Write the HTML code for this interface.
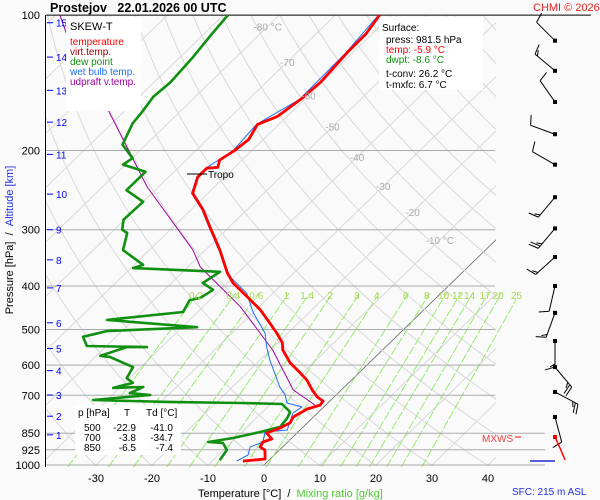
<!DOCTYPE html>
<html><head><meta charset="utf-8"><style>
body{margin:0;background:#fafafa;}
svg{display:block;font-family:"Liberation Sans",sans-serif;}
</style></head><body>
<svg id="chart" width="600" height="500" viewBox="0 0 600 500" xmlns="http://www.w3.org/2000/svg">
<rect width="600" height="500" fill="#fafafa"/>
<defs><clipPath id="plotclip"><rect x="46" y="15" width="450" height="451"/></clipPath>
<clipPath id="mixclip"><rect x="46" y="15" width="470" height="453"/></clipPath></defs>
<g id="grid" clip-path="url(#plotclip)"></g>
<g id="mix" clip-path="url(#mixclip)"></g>
<g id="hlines"></g>
<g id="series" clip-path="url(#plotclip)"></g>
<g id="labels"></g>
<g id="winds"></g>
</svg>
<script>
// ---- data ----
const pressureTicks=[100,200,300,400,500,600,700,850,925,1000];
const altitudeKm=[1,2,3,4,5,6,7,8,9,10,11,12,13,14,15];
const altitudeP=[857,779,699,617,551,483,404,350,300,250,204,173,147,124,104];
const tempTicks=[-30,-20,-10,0,10,20,30,40];
const isoLabels=[-80,-70,-60,-50,-40,-30,-20,-10];
const isoLabelP=[106,127,151,177,207,240,274,316];
const mixRatios=[0.2,0.4,0.6,1,1.4,2,3,4,6,8,10,12,14,17,20,25];
const tempP=[980,970,926,912,889,875,849,827,806,782,766,751,736,721,706,681,647,624,593,555,535,509,494,452,423,394,374,333,296,271,249,229,219,218,210,200,189,175,168,154,141,121,110,100];
const tempT=[-4.5,-0.9,-2.6,-4.0,-4.4,-3.4,-5.4,-3.9,-3.1,-3.6,-3.1,-2.6,-1.0,-1.2,-3.0,-5.2,-8.0,-10.5,-14.1,-17.8,-19.2,-22.0,-23.8,-29.2,-33.9,-39.0,-41.9,-47.4,-53.4,-57.8,-62.7,-64.8,-64.8,-63.0,-64.0,-63.1,-62.6,-63.8,-61.7,-60.7,-60.3,-61.0,-61.1,-62.1];
const dewP=[975,926,893,889,871,845,823,786,762,732,728,724,717,699,692,671,674,657,641,606,575,572,547,547,544,519,504,494,476,457,430,425,408,394,372,365,359,333,305,300,285,260,245,223,215,208,194,174,164,152,141,124,110,100];
const dewT=[-8.8,-9.4,-11.4,-14.2,-10.5,-6.8,-4.1,-4.5,-5.1,-8.0,-15.7,-28.9,-42.5,-33.2,-37.2,-35.9,-41.1,-38.5,-40.5,-41.4,-47.4,-49.3,-46.2,-42.6,-53.5,-55.9,-52.7,-37.3,-54.7,-42.6,-43.6,-42.1,-41.3,-44.4,-43.4,-59.6,-58.4,-64.7,-67.1,-68.6,-70.2,-70.0,-75.1,-75.1,-80.4,-79.9,-84.2,-86.3,-86.7,-87.5,-87.1,-87.7,-88.6,-89.2];
const wetP=[980,950,912,889,845,836,766,743,728,699,671,647,584,547,509,459,415,382,333,296,271,249,229,219,210,200,175,154,121,100];
const wetT=[-5.6,-4.7,-5.8,-4.4,-5.9,-2.3,-4.4,-3.9,-7.3,-9.1,-11.5,-13.3,-18.3,-21.2,-24.1,-29.9,-34.7,-40.6,-47.6,-53.6,-58.0,-62.9,-65.0,-65.0,-64.2,-63.3,-64.0,-60.9,-61.2,-62.3];
const parcelP=[736,681,555,445,363,333,241,162,110,100];
const parcelT=[-1.9,-8.6,-19.6,-33.3,-47.8,-52.2,-72.0,-93.3,-114.6,-119.2];
const windP=[114,133,156,184,215,254,298,345,400,459,530,606,688,782];
const windDir=[315,310,325,290,300,220,220,228,193,200,180,140,118,165];
const windSpd=[10,15,10,10,10,15,25,15,10,15,15,25,25,10];

// ---- axes ----
const NS="http://www.w3.org/2000/svg";
function yOf(p){return 465-195.4*Math.log(1000/p);}
function xOf(T,p){return 264+5.6*T+(465-yOf(p))*1.03;}
function mk(tag,attrs,parent){const e=document.createElementNS(NS,tag);for(const k in attrs)e.setAttribute(k,attrs[k]);parent.appendChild(e);return e;}
const grid=document.getElementById('grid'),mix=document.getElementById('mix'),hl=document.getElementById('hlines'),ser=document.getElementById('series'),lab=document.getElementById('labels'),wg=document.getElementById('winds');

// isotherms
for(let T=-160;T<=50;T+=10){
  const l=mk('line',{x1:xOf(T,1050),y1:yOf(1050),x2:xOf(T,100),y2:yOf(100),stroke:T===0?'#666':'#d8d8d8','stroke-width':T===0?0.8:1},grid);
  
  
}
// dry adiabats
for(let th=233;th<=493;th+=10){
  let d='';
  for(let p=1050;p>=100;p-=10){const T=th*Math.pow(p/1000,0.2857)-273.15;d+=(d?'L':'M')+xOf(T,p).toFixed(1)+','+yOf(p).toFixed(1);}
  const a=mk('path',{d:d,fill:'none',stroke:'#d8d8d8','stroke-width':1},grid);
  
  
}
// mixing ratio lines
function tdFromW(w,p){const e=w*p/(622+w);const g=Math.log(e/6.112);return 243.5*g/(17.67-g);}
mixRatios.forEach(w=>{
  const p1=1010,p2=415;
  const m=mk('line',{x1:xOf(tdFromW(w,p1),p1),y1:yOf(p1),x2:xOf(tdFromW(w,p2),p2),y2:yOf(p2),stroke:'#8ee860','stroke-width':0.9,'stroke-dasharray':'9,2'},mix);
  
  
  const t=mk('text',{x:xOf(tdFromW(w,405),405)-6,y:299,'font-size':10,fill:'#a8d850','text-anchor':'middle'},lab);
  t.textContent=String(w);
  
  
});
// pressure lines and labels
pressureTicks.forEach(p=>{
  const y=yOf(p);
  const ln=mk('line',{x1:46,y1:y,x2:p===100?591:(p>=850?545:495),y2:y,stroke:p===100?'#000':'#aaa','stroke-width':1},hl);
  
  
  const t=mk('text',{x:40,y:y+4,'font-size':11,'text-anchor':'end',fill:'#000'},lab);
  t.textContent=String(p);
  
  
});
mk('line',{x1:45.5,y1:15,x2:45.5,y2:467,stroke:'#000','stroke-width':1},hl);
// altitude ticks
altitudeKm.forEach((k,i)=>{
  const y=yOf(altitudeP[i]);
  mk('line',{x1:47,y1:y,x2:53,y2:y,stroke:'#00f','stroke-width':1},lab);
  const t=mk('text',{x:56,y:y+4,'font-size':10,fill:'#00f'},lab);
  t.textContent=String(k);
  
  
});
// temperature ticks
tempTicks.forEach(T=>{
  const t=mk('text',{x:xOf(T,1000),y:482,'font-size':11,'text-anchor':'middle',fill:'#000'},lab);
  t.textContent=String(T);
  
  
});
// isotherm labels
isoLabels.forEach((T,i)=>{
  const p=isoLabelP[i];
  const t=mk('text',{x:xOf(T,p),y:yOf(p)+4,'font-size':10,fill:'#aaa','text-anchor':'middle'},lab);
  t.textContent=(T===-80||T===-10)?T+' °C':String(T);
  
  
});
// series
function line(P,T,color,w,name){
  let d='';P.forEach((p,i)=>{d+=(i?'L':'M')+xOf(T[i],p).toFixed(1)+','+yOf(p).toFixed(1);});
  const e=mk('path',{d:d,fill:'none',stroke:color,'stroke-width':w,'stroke-linejoin':'round'},ser);
  
  
}
line(parcelP,parcelT,'#a000a0',1,'updraft-virtual-temp-line');
line(wetP,wetT,'#1e6ef0',1,'wet-bulb-line');
line(dewP,dewT,'#109010',2.6,'dew-point-line');
line(tempP,tempT,'#ff0000',2.8,'temperature-line');

// wind barbs
windP.forEach((p,i)=>{
  const cx=555,cy=yOf(p),th=windDir[i]*Math.PI/180,L=26;
  const dx=Math.sin(th),dy=-Math.cos(th);
  const ex=cx+L*dx,ey=cy+L*dy;
  const g=mk('g',{},wg);
  
  
  mk('line',{x1:cx,y1:cy,x2:ex,y2:ey,stroke:'#000','stroke-width':1},g);
  mk('rect',{x:cx-2,y:cy-2,width:4,height:4,fill:'#000'},g);
  let s=windSpd[i],k=0;
  const px=-dy,py=dx;
  while(s>=5){
    const len=s>=10?10:5;
    const bx=ex-dx*k*3,by=ey-dy*k*3;
    mk('line',{x1:bx,y1:by,x2:bx+px*len+dx*3,y2:by+py*len+dy*3,stroke:'#000','stroke-width':1},g);
    s-=s>=10?10:5;k++;
  }
});
// surface wind details
mk('line',{x1:530,y1:461,x2:555,y2:461,stroke:'#0000cc','stroke-width':1.2},wg);
mk('polyline',{points:'555,437 560,448 565,460',fill:'none',stroke:'#f00','stroke-width':1.5},wg);
mk('rect',{x:553,y:435,width:4,height:4,fill:'#f00'},wg);
</script>
<svg style="position:absolute;left:0;top:0" width="600" height="500">
<text x="50" y="12" font-size="12.5" font-weight="bold" font-family="Liberation Sans, sans-serif">Prostejov&#160;&#160;&#160;22.01.2026 00 UTC</text>
<text x="533" y="11" font-size="11" fill="#f02020" font-family="Liberation Sans, sans-serif">CHMI © 2026</text>
<rect x="66" y="17" width="75" height="94" fill="#fff"/>
<g font-family="Liberation Sans, sans-serif" font-size="10">
<text x="70" y="30" font-size="11" fill="#000">SKEW-T</text>
<text x="70" y="45" fill="#f00">temperature</text>
<text x="70" y="55" fill="#a00000">virt.temp.</text>
<text x="70" y="65" fill="#109010">dew point</text>
<text x="70" y="75" fill="#1e6ef0">wet bulb temp.</text>
<text x="70" y="85" fill="#a000a0">udpraft v.temp.</text>
</g>
<rect x="379" y="17" width="104" height="73" fill="#fff"/>
<g font-family="Liberation Sans, sans-serif" font-size="10">
<text x="382" y="31" fill="#000">Surface:</text>
<text x="386" y="43" fill="#000">press: 981.5 hPa</text>
<text x="386" y="53" fill="#f00">temp: -5.9 °C</text>
<text x="386" y="63" fill="#109010">dwpt: -8.6 °C</text>
<text x="386" y="77" fill="#000">t-conv: 26.2 °C</text>
<text x="386" y="88" fill="#000">t-mxfc: 6.7 °C</text>
</g>
<rect x="75" y="405" width="106" height="50" fill="#fff" fill-opacity="0.9"/>
<g font-family="Liberation Sans, sans-serif" font-size="10" fill="#000">
<text x="78" y="416">p [hPa]</text><text x="124" y="416">T</text><text x="146" y="416">Td [°C]</text>
<text x="84" y="431">500</text><text x="136" y="431" text-anchor="end">-22.9</text><text x="173" y="431" text-anchor="end">-41.0</text>
<text x="84" y="441">700</text><text x="136" y="441" text-anchor="end">-3.8</text><text x="173" y="441" text-anchor="end">-34.7</text>
<text x="84" y="451">850</text><text x="136" y="451" text-anchor="end">-6.5</text><text x="173" y="451" text-anchor="end">-7.4</text>
</g>
<line x1="187" y1="174" x2="207" y2="174" stroke="#000"/>
<text x="208" y="178" font-size="10" font-family="Liberation Sans, sans-serif">Tropo</text>
<text x="482" y="442" font-size="10" fill="#f04040" font-family="Liberation Sans, sans-serif">MXWS</text>
<line x1="515" y1="437" x2="521" y2="437" stroke="#f00"/>
<text x="198" y="497" font-size="11" font-family="Liberation Sans, sans-serif">Temperature [°C]&#160;&#160;/&#160;&#160;<tspan fill="#50c830">Mixing ratio [g/kg]</tspan></text>
<text x="512" y="495" font-size="10" fill="#2030e0" font-family="Liberation Sans, sans-serif">SFC: 215 m ASL</text>
<text transform="translate(13,240) rotate(-90)" font-size="11" text-anchor="middle" font-family="Liberation Sans, sans-serif">Pressure [hPa]&#160;&#160;/&#160;&#160;<tspan fill="#2030e0">Altitude [km]</tspan></text>
</svg>
</body></html>
